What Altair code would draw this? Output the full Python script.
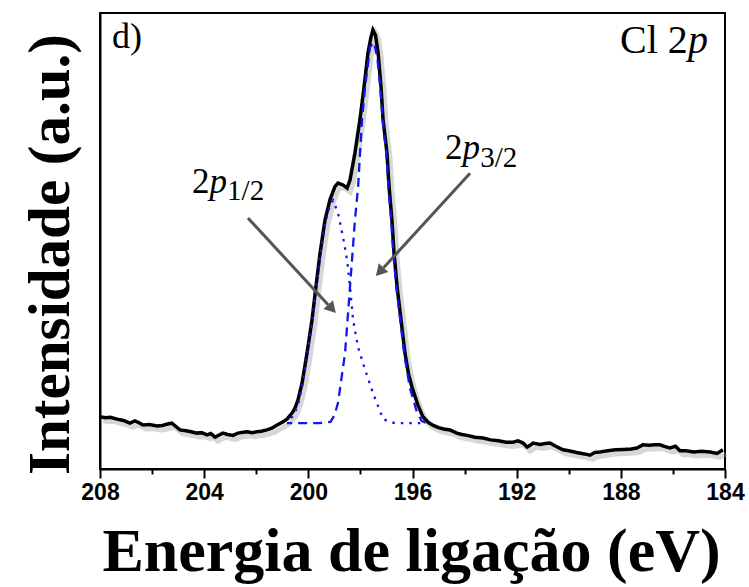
import altair as alt
import pandas as pd

# ---------------- data ----------------
energy_eV = [208.0, 207.8, 207.6, 207.35, 207.1, 206.85, 206.66, 206.5, 206.35, 206.1,
             205.81, 205.6, 205.4, 205.24, 205.05, 204.93, 204.7, 204.5, 204.28, 204.1,
             203.89, 203.75, 203.58, 203.45, 203.28, 203.1, 202.89, 202.7, 202.5, 202.35,
             202.15, 201.97, 201.8, 201.59, 201.4, 201.2, 201.0, 200.82, 200.7, 200.59,
             200.5, 200.40, 200.24, 200.05, 199.86, 199.71, 199.55, 199.36, 199.17, 198.98,
             198.86, 198.67, 198.51, 198.40, 198.21, 198.02, 197.86, 197.71, 197.6, 197.52,
             197.42, 197.32, 197.21, 197.13, 196.98, 196.90, 196.79, 196.71, 196.59, 196.44,
             196.29, 196.15, 196.02, 195.8, 195.6, 195.4, 195.2, 195.0, 194.8, 194.56,
             194.3, 194.1, 193.9, 193.6, 193.29, 193.0, 192.7, 192.4, 192.14, 191.95,
             191.75, 191.6, 191.45, 191.37, 191.1, 190.9, 190.72, 190.5, 190.22, 190.0,
             189.7, 189.4, 189.18, 189.0, 188.80, 188.5, 188.2, 187.9, 187.6, 187.38,
             187.15, 186.9, 186.7, 186.50, 186.3, 186.11, 185.9, 185.73, 185.5, 185.2,
             184.9, 184.57, 184.3, 184.08]
intensity = [11.1, 10.9, 11.0, 10.6, 10.3, 9.7, 10.2, 9.8, 9.3, 9.4,
             9.1, 9.2, 9.5, 9.7, 8.8, 8.2, 8.0, 7.8, 7.5, 7.6,
             7.1, 7.4, 6.6, 7.0, 7.5, 7.2, 7.0, 7.5, 7.7, 7.8,
             7.6, 7.8, 7.9, 8.2, 8.6, 9.3, 9.9, 10.6, 11.4, 12.2,
             13.2, 14.8, 18.6, 25.2, 32.5, 39.8, 47.3, 54.6, 59.1, 62.0,
             62.8, 62.4, 61.7, 63.5, 69.5, 76.8, 84.1, 91.6, 95.0, 96.7,
             95.5, 91.6, 84.1, 76.8, 69.5, 62.0, 54.6, 47.3, 39.8, 32.5,
             25.2, 20.5, 17.7, 13.8, 11.1, 9.9, 9.2, 8.7, 8.4, 8.2,
             7.5, 7.2, 7.0, 6.6, 6.4, 6.0, 5.8, 5.5, 5.5, 5.8,
             5.3, 4.4, 4.9, 5.3, 5.0, 5.2, 5.3, 4.6, 3.8, 3.6,
             3.2, 2.9, 2.6, 3.2, 3.3, 3.6, 3.8, 3.9, 4.0, 4.2,
             4.9, 4.8, 4.9, 4.9, 4.5, 4.2, 4.6, 3.6, 3.6, 3.3,
             3.5, 3.3, 3.0, 3.8]

# 2p3/2 fitted component (dashed)
fit32_energy = [200.82, 200.2, 199.6, 199.15, 199.0, 198.86, 198.59, 198.40, 198.21, 198.09,
                197.94, 197.82, 197.63, 197.48, 197.35, 197.23, 197.14, 197.0, 196.92, 196.81,
                196.73, 196.61, 196.46, 196.31, 196.1, 195.85, 195.65, 195.5]
fit32_int = [9.7, 9.7, 9.7, 10.0, 11.4, 14.2, 25.2, 39.8, 54.6, 61.9,
             76.8, 84.1, 92.9, 94.0, 90.5, 83.5, 76.5, 69.0, 61.5, 54.0,
             46.8, 39.3, 32.0, 24.7, 17.5, 12.5, 10.2, 9.8]

# 2p1/2 fitted component (dotted)
fit12_energy = [200.82, 200.6, 200.4, 200.24, 200.05, 199.86, 199.71, 199.55, 199.36, 199.17,
                199.05, 198.86, 198.67, 198.51, 198.40, 198.28, 198.09, 197.82, 197.52, 197.13,
                196.8, 196.4, 196.0, 195.7]
fit12_int = [10.0, 11.2, 13.6, 17.8, 24.5, 31.8, 39.0, 46.5, 53.8, 58.0,
             59.0, 56.2, 50.9, 45.8, 39.8, 32.5, 26.5, 21.5, 16.4, 10.6,
             9.8, 9.7, 9.7, 9.7]

tick_values = [208, 206, 204, 202, 200, 198, 196, 194, 192, 190, 188, 186, 184]

# annotation texts (energy, intensity positions)
ann_normal_text = ["d)", "Cl 2", "2", "2"]
ann_normal_E = [207.54, 188.03, 204.47, 194.75]
ann_normal_I = [92.7, 91.6, 60.6, 68.1]
ann_normal_size = [36, 40, 35, 35]

ann_italic_text = ["p", "p", "p"]
ann_italic_E = [185.42, 203.80, 194.08]
ann_italic_I = [91.6, 60.6, 68.1]
ann_italic_size = [40, 35, 35]

sub_text = ["1/2", "3/2"]
sub_E = [203.12, 193.40]
sub_I = [59.1, 66.4]
sub_size = [29, 29]

arrow_E1 = [202.32, 193.79]
arrow_I1 = [55.1, 65.0]
arrow_E2 = [199.24, 197.11]
arrow_I2 = [35.9, 44.1]
head_E = [199.14, 197.21]
head_I = [35.3, 43.5]
head_angle = [137.2, 222.4]

# ---------------- frames ----------------
spec = pd.DataFrame({"E": energy_eV, "I": intensity})
f32 = pd.DataFrame({"E": fit32_energy, "I": fit32_int})
f12 = pd.DataFrame({"E": fit12_energy, "I": fit12_int})
ann_n = pd.DataFrame({"E": ann_normal_E, "I": ann_normal_I, "t": ann_normal_text, "s": ann_normal_size})
ann_i = pd.DataFrame({"E": ann_italic_E, "I": ann_italic_I, "t": ann_italic_text, "s": ann_italic_size})
ann_s = pd.DataFrame({"E": sub_E, "I": sub_I, "t": sub_text, "s": sub_size})
arrows = pd.DataFrame({"E1": arrow_E1, "I1": arrow_I1, "E2": arrow_E2, "I2": arrow_I2})
heads = pd.DataFrame({"E": head_E, "I": head_I, "a": head_angle})

xscale = alt.Scale(domain=[184, 208], reverse=True, nice=False, zero=False)
yscale = alt.Scale(domain=[-0.44, 100.44], nice=False, zero=False)

x_axis = alt.Axis(
    values=tick_values,
    labelExpr="datum.value % 4 === 0 ? datum.label : ''",
    format="d",
    labelFont="Liberation Sans", labelFontWeight="bold", labelFontSize=23,
    labelColor="black", labelFlush=False, labelOverlap=False, labelPadding=3,
    tickColor="black", tickWidth=2,
    tickSize={"condition": {"test": "datum.value % 4 === 0", "value": 9}, "value": 5},
    domainColor="black", domainWidth=2, grid=False,
    title="Energia de ligação (eV)",
    titleFont="Liberation Serif", titleFontWeight="bold", titleFontSize=62,
    titleColor="black", titleX=311, titleY=101, titleAlign="center",
    titleBaseline="alphabetic",
)
y_axis = alt.Axis(
    labels=False, ticks=False, grid=False,
    domainColor="black", domainWidth=2,
    title="Intensidade (a.u.)",
    titleFont="Liberation Serif", titleFontWeight="bold", titleFontSize=59,
    titleColor="black", titleX=-32, titleY=241, titleAlign="center",
    titleBaseline="alphabetic", titleAngle=270,
)

X = alt.X("E:Q", scale=xscale, axis=x_axis)
Y = alt.Y("I:Q", scale=yscale, axis=y_axis)

shadow = alt.Chart(spec).mark_line(
    color="#9a9a9a", strokeWidth=5, opacity=0.4, xOffset=3, yOffset=4
).encode(x=X, y=Y, order="E:Q")

curve = alt.Chart(spec).mark_line(color="black", strokeWidth=3.5).encode(
    x=X, y=Y, order=alt.Order("E:Q"))

c32 = alt.Chart(f32).mark_line(color="#1414f0", strokeWidth=2.3, strokeDash=[9, 6]).encode(
    x="E:Q", y="I:Q", order=alt.Order("E:Q"))
c12 = alt.Chart(f12).mark_line(color="#1414f0", strokeWidth=2.3, strokeDash=[2.5, 6]).encode(
    x="E:Q", y="I:Q", order=alt.Order("E:Q"))

arrow_lines = alt.Chart(arrows).mark_rule(color="#555555", strokeWidth=3).encode(
    x="E1:Q", y="I1:Q", x2="E2:Q", y2="I2:Q")
arrow_heads = alt.Chart(heads).mark_point(
    shape="triangle", filled=True, color="#555555", size=170, opacity=1
).encode(x="E:Q", y="I:Q", angle=alt.Angle("a:Q", scale=None))

t_norm = alt.Chart(ann_n).mark_text(
    font="Liberation Serif", align="left", baseline="alphabetic", color="black"
).encode(x="E:Q", y="I:Q", text="t:N", size=alt.Size("s:Q", scale=None))
t_ital = alt.Chart(ann_i).mark_text(
    font="Liberation Serif", fontStyle="italic", align="left", baseline="alphabetic", color="black"
).encode(x="E:Q", y="I:Q", text="t:N", size=alt.Size("s:Q", scale=None))
t_sub = alt.Chart(ann_s).mark_text(
    font="Liberation Serif", align="left", baseline="alphabetic", color="black"
).encode(x="E:Q", y="I:Q", text="t:N", size=alt.Size("s:Q", scale=None))

chart = alt.layer(
    shadow, curve, c12, c32, arrow_lines, arrow_heads, t_norm, t_ital, t_sub
).properties(
    width=625, height=456,
    padding={"left": 100, "top": 13, "right": 24, "bottom": 118},
    autosize="none", background="white",
).configure_view(stroke="black", strokeWidth=2)

chart.save("out.html", embed_options={"renderer": "svg", "actions": False})
